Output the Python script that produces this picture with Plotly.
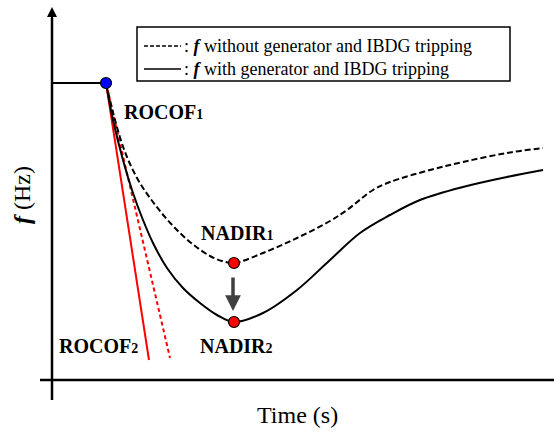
import plotly.graph_objects as go

# Conceptual frequency-response chart (arbitrary units: time t, frequency f)
pre_t = [0, 54]
pre_f = [297, 297]

dashed_t = [54, 63, 73, 85, 98, 113, 128, 143, 158, 170, 182, 211, 245, 278, 295, 321, 338, 378, 411, 455, 491]
dashed_f = [297, 260, 228, 202, 182, 163, 147, 134, 124, 119, 117, 127, 142, 159, 170, 190, 198, 210, 218, 227, 232]

solid_t = [54, 61, 71, 81, 91, 101, 115, 131, 148, 165, 182, 211, 245, 278, 308, 338, 368, 411, 455, 491]
solid_f = [297, 260, 220, 187, 160, 137, 112, 92, 77, 65, 58, 67, 90, 120, 147, 165, 180, 193, 203, 210]

rocof2_solid_t = [54, 97]
rocof2_solid_f = [297, 20]
rocof2_dash_t = [54, 118]
rocof2_dash_f = [297, 22]

nadir_t = [182, 182]
nadir_f = [117, 58]

FONT = "Liberation Serif, Times New Roman, serif"

fig = go.Figure()

fig.add_trace(go.Scatter(x=pre_t, y=pre_f, mode="lines",
                         line=dict(color="black", width=2), hoverinfo="skip"))
fig.add_trace(go.Scatter(x=rocof2_solid_t, y=rocof2_solid_f, mode="lines",
                         line=dict(color="#ff0000", width=2), hoverinfo="skip"))
fig.add_trace(go.Scatter(x=rocof2_dash_t, y=rocof2_dash_f, mode="lines",
                         line=dict(color="#ff0000", width=2, dash="4px,3px"), hoverinfo="skip"))
fig.add_trace(go.Scatter(x=dashed_t, y=dashed_f, mode="lines",
                         line=dict(color="black", width=2, dash="6px,3px", shape="spline", smoothing=1.0),
                         hoverinfo="skip"))
fig.add_trace(go.Scatter(x=solid_t, y=solid_f, mode="lines",
                         line=dict(color="black", width=2, shape="spline", smoothing=1.0),
                         hoverinfo="skip"))
fig.add_trace(go.Scatter(x=[pre_t[-1]], y=[pre_f[-1]], mode="markers",
                         marker=dict(color="#0000ff", size=11, line=dict(color="black", width=1.2)),
                         hoverinfo="skip"))
fig.add_trace(go.Scatter(x=nadir_t, y=nadir_f, mode="markers",
                         marker=dict(color="#ff0000", size=11, line=dict(color="black", width=1.2)),
                         hoverinfo="skip"))

shapes = [
    # y axis
    dict(type="line", xref="x", yref="y", x0=0, x1=0, y0=-20, y1=362,
         line=dict(color="black", width=2.5)),
    # x axis
    dict(type="line", xref="x", yref="y", x0=-12, x1=502, y0=0, y1=0,
         line=dict(color="black", width=2.5)),
    # legend box
    dict(type="rect", xref="x", yref="y", x0=85, x1=458, y0=299, y1=353,
         line=dict(color="black", width=1.5), fillcolor="white"),
    dict(type="line", xref="x", yref="y", x0=92, x1=129, y0=334, y1=334,
         line=dict(color="black", width=1.5, dash="4px,2px")),
    dict(type="line", xref="x", yref="y", x0=92, x1=129, y0=311, y1=311,
         line=dict(color="black", width=1.5)),
]

bold_lbl = dict(family=FONT, size=20, color="black")
annotations = [
    # y-axis arrowhead
    dict(x=0, y=373, ax=0, ay=355, xref="x", yref="y", axref="x", ayref="y",
         showarrow=True, arrowhead=2, arrowsize=1, arrowwidth=2, arrowcolor="black", text=""),
    # NADIR arrow
    dict(x=181, y=69, ax=181, ay=104, xref="x", yref="y", axref="x", ayref="y",
         showarrow=True, arrowhead=2, arrowsize=0.9, arrowwidth=3.5, arrowcolor="#404040", text=""),
    dict(x=130, y=334, xref="x", yref="y", xanchor="left", yanchor="middle", showarrow=False,
         text=": <b><i>f</i></b> without generator and IBDG tripping",
         font=dict(family=FONT, size=18, color="black")),
    dict(x=130, y=311, xref="x", yref="y", xanchor="left", yanchor="middle", showarrow=False,
         text=": <b><i>f</i></b> with generator and IBDG tripping",
         font=dict(family=FONT, size=18, color="black")),
    dict(x=70, y=268, xref="x", yref="y", xanchor="left", yanchor="middle", showarrow=False,
         text="<b>ROCOF<span style='font-size:14px'>1</span></b>", font=bold_lbl),
    dict(x=5, y=34, xref="x", yref="y", xanchor="left", yanchor="middle", showarrow=False,
         text="<b>ROCOF<span style='font-size:14px'>2</span></b>", font=bold_lbl),
    dict(x=185, y=147, xref="x", yref="y", xanchor="center", yanchor="middle", showarrow=False,
         text="<b>NADIR<span style='font-size:14px'>1</span></b>", font=bold_lbl),
    dict(x=184, y=34, xref="x", yref="y", xanchor="center", yanchor="middle", showarrow=False,
         text="<b>NADIR<span style='font-size:14px'>2</span></b>", font=bold_lbl),
    dict(x=245, y=-35, xref="x", yref="y", xanchor="center", yanchor="middle", showarrow=False,
         text="Time (s)", font=dict(family=FONT, size=24, color="black")),
    dict(x=-30, y=185, xref="x", yref="y", xanchor="center", yanchor="middle", showarrow=False,
         textangle=-90, text="<b><i>f</i></b> (Hz)", font=dict(family=FONT, size=24, color="black")),
]

fig.update_layout(
    width=554, height=432,
    margin=dict(l=0, r=0, t=0, b=0),
    paper_bgcolor="white", plot_bgcolor="white",
    showlegend=False,
    xaxis=dict(range=[-52, 502], visible=False, fixedrange=True),
    yaxis=dict(range=[-52, 380], visible=False, fixedrange=True),
    shapes=shapes,
    annotations=annotations,
)

fig.write_html("out.html")
